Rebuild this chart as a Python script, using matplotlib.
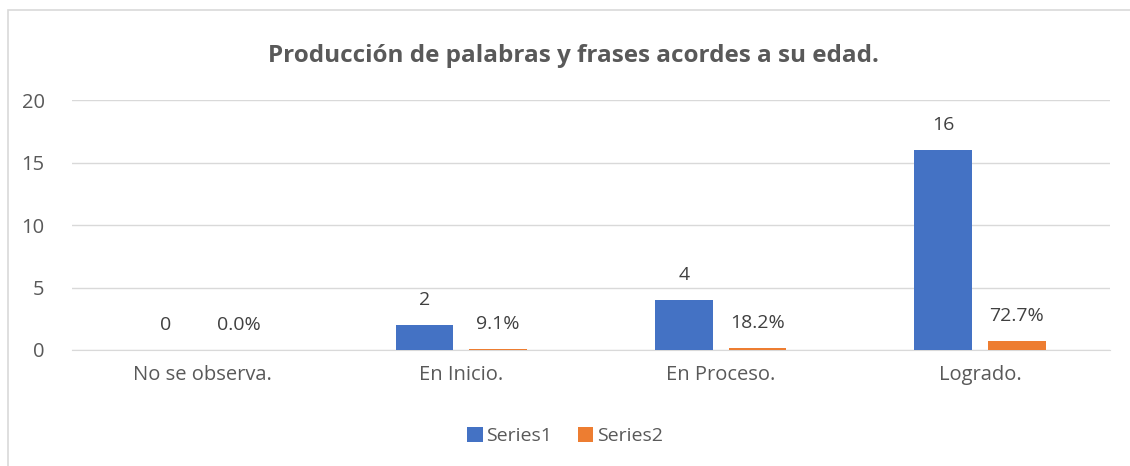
import matplotlib.pyplot as plt
import matplotlib.patches as patches
import numpy as np

categories = ["No se observa.", "En Inicio.", "En Proceso.", "Logrado."]
series1 = [0, 2, 4, 16]
series2 = [0.0, 0.091, 0.182, 0.727]

plt.rcParams['font.family'] = ['Open Sans', 'DejaVu Sans']

fig = plt.figure(figsize=(11.3, 4.66), dpi=100)
ax = fig.add_axes([0.064, 0.249, 0.918, 0.536])

# outer chart border (right and bottom edges fall off the picture)
fig.patches.append(patches.Rectangle((8 / 1130, -0.02), 1.0, 1.02 - 10 / 466,
                                     transform=fig.transFigure, fill=False,
                                     edgecolor='#D9D9D9', linewidth=1.2))

x = np.arange(len(categories))
w = 0.223
off = 0.142
b1 = ax.bar(x - off, series1, w, color='#4472C4', label='Series1', zorder=3)
b2 = ax.bar(x + off, series2, w, color='#ED7D31', label='Series2', zorder=3)

for xi, v in zip(x, series1):
    ax.annotate(str(v), (xi - off, v), xytext=(0, 18), textcoords='offset points',
                ha='center', va='center', fontsize=14, color='#404040')
for xi, v in zip(x, series2):
    ax.annotate(f"{v * 100:.1f}%", (xi + off, v), xytext=(0, 18), textcoords='offset points',
                ha='center', va='center', fontsize=14, color='#404040')

ax.set_xlim(-0.5, 3.5)
ax.set_ylim(0, 20)
ax.set_yticks([0, 5, 10, 15, 20])
ax.set_xticks(x)
ax.set_xticklabels(categories)
ax.tick_params(axis='both', length=0, labelsize=14.5, colors='#595959')
ax.tick_params(axis='x', pad=11)
ax.tick_params(axis='y', pad=20)
ax.grid(axis='y', color='#D9D9D9', linewidth=1, zorder=0)
for s in ['top', 'right', 'left']:
    ax.spines[s].set_visible(False)
ax.spines['bottom'].set_color('#D9D9D9')

fig.text(573 / 1130, 1 - 56 / 466, "Producción de palabras y frases acordes a su edad.",
         fontsize=17.5, fontweight='bold', color='#595959', ha='center', va='center')

fig.legend(handles=[b1, b2], loc='center', bbox_to_anchor=(0.5, 1 - 436 / 466), ncol=2,
           frameon=False, fontsize=14, handlelength=0.8, handleheight=0.8,
           handletextpad=0.2, columnspacing=1.3, labelcolor='#595959')

fig.savefig('out.png')
